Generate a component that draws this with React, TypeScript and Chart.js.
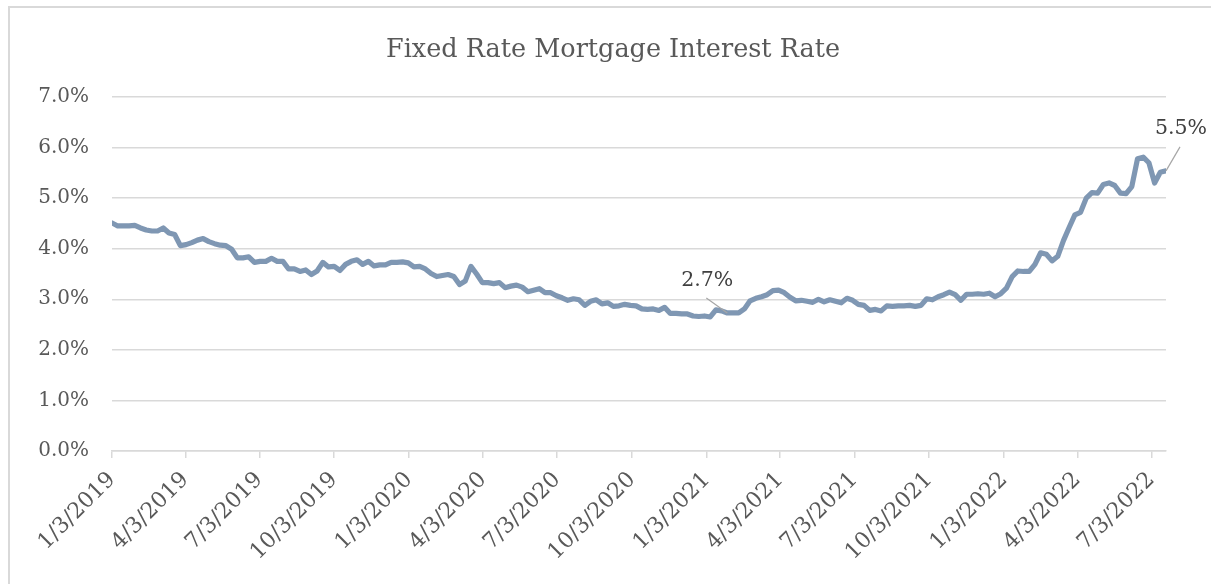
import React, { useEffect, useRef } from 'react';
import { Chart, registerables } from 'chart.js';

Chart.register(...registerables);

const TITLE = 'Fixed Rate Mortgage Interest Rate';
const START_DATE = '1/3/2019';
const WEEK_DAYS = 7;

// Weekly 30-year fixed rate (%), Thursdays starting 1/3/2019
const rates2019 = [
  4.51, 4.45, 4.45, 4.45, 4.46, 4.41, 4.37, 4.35, 4.35, 4.41, 4.31, 4.28, 4.06,
  4.08, 4.12, 4.17, 4.20, 4.14, 4.10, 4.07, 4.06, 3.99, 3.82, 3.82, 3.84, 3.73,
  3.75, 3.75, 3.81, 3.75, 3.75, 3.60, 3.60, 3.55, 3.58, 3.49, 3.56, 3.73, 3.64,
  3.65, 3.57, 3.69, 3.75, 3.78, 3.69, 3.75, 3.66, 3.68, 3.68, 3.73, 3.73, 3.74,
];
const rates2020 = [
  3.72, 3.64, 3.65, 3.60, 3.51, 3.45, 3.47, 3.49, 3.45, 3.29, 3.36, 3.65, 3.50,
  3.33, 3.33, 3.31, 3.33, 3.23, 3.26, 3.28, 3.24, 3.15, 3.18, 3.21, 3.13, 3.13,
  3.07, 3.03, 2.98, 3.01, 2.99, 2.88, 2.96, 2.99, 2.91, 2.93, 2.86, 2.87, 2.90,
  2.88, 2.87, 2.81, 2.80, 2.81, 2.78, 2.84, 2.72, 2.72, 2.71, 2.71, 2.67, 2.66, 2.67,
];
const rates2021 = [
  2.65, 2.79, 2.77, 2.73, 2.73, 2.73, 2.81, 2.97, 3.02, 3.05, 3.09, 3.17,
  3.18, 3.13, 3.04, 2.97, 2.98, 2.96, 2.94, 3.00, 2.95, 2.99, 2.96, 2.93, 3.02,
  2.98, 2.90, 2.88, 2.78, 2.80, 2.77, 2.87, 2.86, 2.87, 2.87, 2.88, 2.86, 2.88, 3.01,
  2.99, 3.05, 3.09, 3.14, 3.09, 2.98, 3.10, 3.10, 3.11, 3.10, 3.12, 3.05, 3.11,
];
const rates2022 = [
  3.22, 3.45, 3.56, 3.55, 3.55, 3.69, 3.92, 3.89, 3.76, 3.85, 4.16, 4.42, 4.67,
  4.72, 5.00, 5.11, 5.10, 5.27, 5.30, 5.25, 5.10, 5.09, 5.23, 5.78, 5.81, 5.70,
  5.30, 5.51, 5.54,
];

const tickLabels = [
  '1/3/2019', '4/3/2019', '7/3/2019', '10/3/2019',
  '1/3/2020', '4/3/2020', '7/3/2020', '10/3/2020',
  '1/3/2021', '4/3/2021', '7/3/2021', '10/3/2021',
  '1/3/2022', '4/3/2022', '7/3/2022',
];

const labelIndices = [108, 185];
const labelTexts = ['2.7%', '5.5%'];

const Y_MIN = 0;
const Y_MAX = 7;
const Y_STEP = 1;

function toUTC(s: string): number {
  const [m, d, y] = s.split('/').map(Number);
  return Date.UTC(y, m - 1, d);
}
function dayOffset(s: string): number {
  return Math.round((toUTC(s) - toUTC(START_DATE)) / 86400000);
}

const allRates = [...rates2019, ...rates2020, ...rates2021, ...rates2022];
const points = allRates.map((v, i) => ({ x: i * WEEK_DAYS, y: v }));
const tickValues = tickLabels.map(dayOffset);

const FONT = "'DejaVu Serif', serif";

const overlayPlugin = {
  id: 'overlay',
  afterDraw(chart: any) {
    const ctx = chart.ctx;
    ctx.save();
    // title
    ctx.fillStyle = '#595959';
    ctx.font = `25.5px ${FONT}`;
    ctx.textAlign = 'center';
    ctx.textBaseline = 'alphabetic';
    ctx.fillText(TITLE, 613, 57);

    const meta = chart.getDatasetMeta(0);
    const offsets = [
      { lx: -20, ly: -32, ex: -21, ey: -15 },
      { lx: 15, ly: -42, ex: 14, ey: -24 },
    ];
    labelIndices.forEach((idx, k) => {
      const el = meta.data[idx];
      if (!el) return;
      const o = offsets[k];
      ctx.strokeStyle = '#a6a6a6';
      ctx.lineWidth = 1.2;
      ctx.beginPath();
      ctx.moveTo(el.x, el.y);
      ctx.lineTo(el.x + o.ex, el.y + o.ey);
      ctx.stroke();
      ctx.fillStyle = '#404040';
      ctx.font = `20.5px ${FONT}`;
      ctx.textAlign = 'center';
      ctx.textBaseline = 'middle';
      ctx.fillText(labelTexts[k], el.x + o.lx, el.y + o.ly);
    });
    ctx.restore();
  },
};

export default function App() {
  const ref = useRef<HTMLCanvasElement>(null);
  useEffect(() => {
    if (!ref.current) return;
    const chart = new Chart(ref.current, {
      type: 'line',
      data: {
        datasets: [
          {
            data: points,
            borderColor: '#7F97B3',
            borderWidth: 5.2,
            pointRadius: 0,
            borderJoinStyle: 'round',
            borderCapStyle: 'round',
            tension: 0,
          },
        ],
      },
      options: {
        animation: false,
        responsive: false,
        parsing: false,
        layout: { padding: { top: 97, right: 45, bottom: 0, left: 0 } },
        plugins: {
          legend: { display: false },
          tooltip: { enabled: false },
          title: { display: false },
        },
        scales: {
          x: {
            type: 'linear',
            min: 0,
            max: (allRates.length - 1) * WEEK_DAYS,
            afterBuildTicks(scale: any) {
              scale.ticks = tickValues.map((v) => ({ value: v }));
            },
            afterFit(scale: any) {
              scale.height = 133;
            },
            grid: {
              drawOnChartArea: false,
              drawTicks: true,
              tickLength: 7,
              color: '#d9d9d9',
              lineWidth: 1.5,
            },
            border: { display: true, color: '#d9d9d9', width: 1.5 },
            ticks: {
              autoSkip: false,
              maxRotation: 45,
              minRotation: 45,
              padding: 9,
              color: '#595959',
              font: { family: FONT, size: 22 },
              callback: (v: any) => {
                const i = tickValues.indexOf(Number(v));
                return i >= 0 ? tickLabels[i] : '';
              },
            },
          },
          y: {
            min: Y_MIN,
            max: Y_MAX,
            afterFit(scale: any) {
              scale.width = 112;
            },
            grid: { color: '#d9d9d9', lineWidth: 1.5, drawTicks: false },
            border: { display: false },
            ticks: {
              stepSize: Y_STEP,
              padding: 23,
              color: '#595959',
              font: { family: FONT, size: 20 },
              callback: (v: any) => Number(v).toFixed(1) + '%',
            },
          },
        },
      },
      plugins: [overlayPlugin],
    } as any);
    return () => chart.destroy();
  }, []);

  return (
    <div style={{ position: 'fixed', left: 0, top: 0, width: 1211, height: 584, background: '#fff', overflow: 'hidden' }}>
      <div
        style={{
          position: 'absolute',
          left: 8,
          top: 6,
          width: 1300,
          height: 700,
          borderLeft: '2px solid #d9d9d9',
          borderTop: '2px solid #d9d9d9',
        }}
      />
      <canvas ref={ref} width={1211} height={584} style={{ position: 'absolute', left: 0, top: 0 }} />
    </div>
  );
}
